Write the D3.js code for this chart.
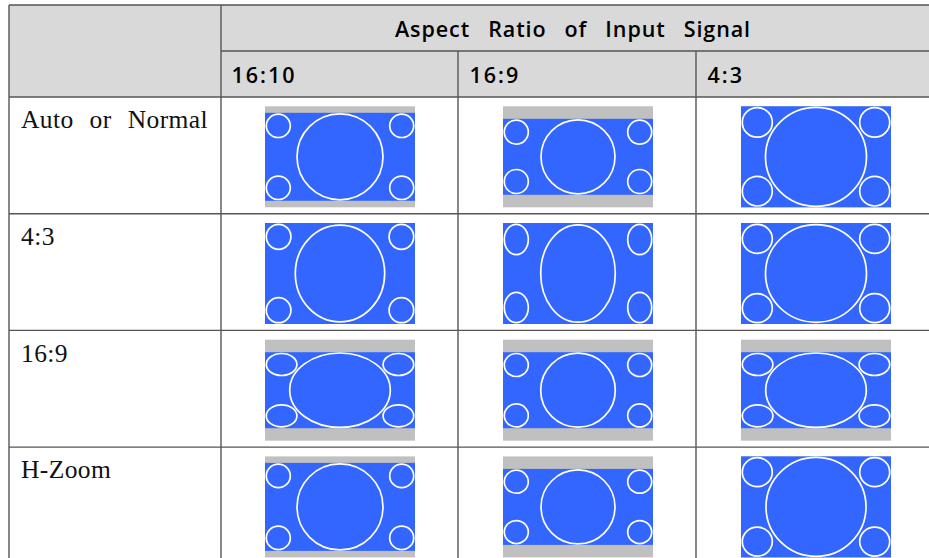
<!DOCTYPE html>
<html><head><meta charset="utf-8">
<script src="https://cdn.jsdelivr.net/npm/d3@7"></script>
<style>body{margin:0;background:#fff}svg{display:block}</style>
</head><body>
<svg id="c" width="929" height="558"></svg>
<script>
// ---- data ----
const headerTitle = "Aspect Ratio of Input Signal";
const signals = ["16:10", "16:9", "4:3"];
const modes = ["Auto or Normal", "4:3", "16:9", "H-Zoom"];
// projected image inside a 150 x 101 panel, rows = modes, cols = signals
const imageHeight = [[88, 76, 101], [101, 101, 101], [76, 76, 76], [88, 76, 101]];
const bigRx   = [[43, 37, 50.5], [44.7, 37.3, 50.5], [50.3, 37.3, 50.3], [43, 37, 50]];
const bigRy   = [[43, 37, 49.5], [48.3, 48.7, 48.8], [37.2, 37, 37.2], [43, 37, 49.5]];
const smallRx = [[12, 12, 15], [12.3, 12, 15], [15.3, 12, 15.3], [12, 12, 15]];
const smallRy = [[11.7, 12, 14.8], [12.5, 15.2, 14.5], [11, 11.5, 11], [11.7, 11.5, 14.5]];

// ---- layout ----
const W = 929, H = 558;
const svg = d3.select("#c");
const L = 9, T = 5, C0 = 221, R1 = 51, R2 = 97, rowH = 116.7;
const PW = 150, PH = 101;
const x = d3.scaleBand().domain(signals).range([221.5, 221.5 + 3 * 238]);
const y = d3.scaleBand().domain(modes).range([R2, R2 + 4 * rowH]);

const BLUE = "#3366ff", GRAY = "#c0c0c0", HEAD = "#d9d9d9", LINE = "#555";

svg.append("rect").attr("x", 0).attr("y", 0).attr("width", W).attr("height", H).attr("fill", "#fff");
svg.append("rect").attr("x", L).attr("y", T).attr("width", W - L).attr("height", R2 - T).attr("fill", HEAD);

// panels
modes.forEach((m, i) => signals.forEach((s, j) => {
  const px = d3.scaleLinear().domain([0, PW]).range([x(s) + 43.5, x(s) + 43.5 + PW]);
  const py = d3.scaleLinear().domain([0, PH]).range([y(m) + 9.3, y(m) + 9.3 + PH]);
  const g = svg.append("g");
  const h = imageHeight[i][j];
  const b0 = (PH - h) / 2, b1 = (PH + h) / 2;
  g.append("rect").attr("x", px(0)).attr("y", py(0)).attr("width", px(PW) - px(0)).attr("height", py(PH) - py(0)).attr("fill", GRAY);
  g.append("rect").attr("x", px(0)).attr("y", py(b0)).attr("width", px(PW) - px(0)).attr("height", py(b1) - py(b0)).attr("fill", BLUE);
  const ins = 1.3;
  const rx = smallRx[i][j], ry = smallRy[i][j];
  const ell = [
    {cx: PW / 2, cy: PH / 2, rx: bigRx[i][j], ry: bigRy[i][j]},
    {cx: ins + rx, cy: b0 + ins + ry, rx, ry},
    {cx: PW - ins - rx, cy: b0 + ins + ry, rx, ry},
    {cx: ins + rx, cy: b1 - ins - ry, rx, ry},
    {cx: PW - ins - rx, cy: b1 - ins - ry, rx, ry}
  ];
  g.selectAll("ellipse").data(ell).join("ellipse")
    .attr("cx", d => px(d.cx)).attr("cy", d => py(d.cy))
    .attr("rx", d => d.rx).attr("ry", d => d.ry)
    .attr("fill", "none").attr("stroke", "#fff").attr("stroke-width", 1.7);
}));

// grid lines
const lines = [
  [L, T, W, T], [C0, R1, W, R1], [L, R2, W, R2],
  [L, T, L, H], [C0, T, C0, H]
];
signals.slice(1).forEach(s => lines.push([x(s) - 1.5, R1, x(s) - 1.5, H]));
modes.slice(1).forEach(m => lines.push([L, y(m), W, y(m)]));
svg.selectAll("line.grid").data(lines).join("line").attr("class", "grid")
  .attr("x1", d => d[0]).attr("y1", d => d[1]).attr("x2", d => d[2]).attr("y2", d => d[3])
  .attr("stroke", LINE).attr("stroke-width", 1.4);

// justify helper
function justify(sel, target) {
  const n = (sel.text().match(/ /g) || []).length;
  if (!n) return;
  const w = sel.node().getComputedTextLength();
  const cur = parseFloat(sel.attr("word-spacing") || 0);
  sel.attr("word-spacing", cur + (target - w) / n);
}

// header title
const t1 = svg.append("text").attr("x", 395).attr("y", 37)
  .attr("font-family", "'Open Sans', sans-serif").attr("font-weight", 600)
  .attr("font-size", 21.5).attr("letter-spacing", 0.9).attr("fill", "#000").text(headerTitle);
justify(t1, 356);

// signal headers
svg.selectAll("text.sig").data(signals).join("text").attr("class", "sig")
  .attr("x", d => x(d) + 10).attr("y", 83)
  .attr("font-family", "'Open Sans', sans-serif").attr("font-weight", 600)
  .attr("font-size", 21.5).attr("letter-spacing", 2).attr("fill", "#000").text(d => d);

// mode labels
svg.selectAll("text.mode").data(modes).join("text").attr("class", "mode")
  .attr("x", 21).attr("y", d => y(d) + 31.3)
  .attr("font-family", "'Liberation Serif', serif")
  .attr("font-size", 25.5).attr("letter-spacing", 0.4).attr("fill", "#111").text(d => d)
  .each(function() { justify(d3.select(this), 187); });
</script>
</body></html>
